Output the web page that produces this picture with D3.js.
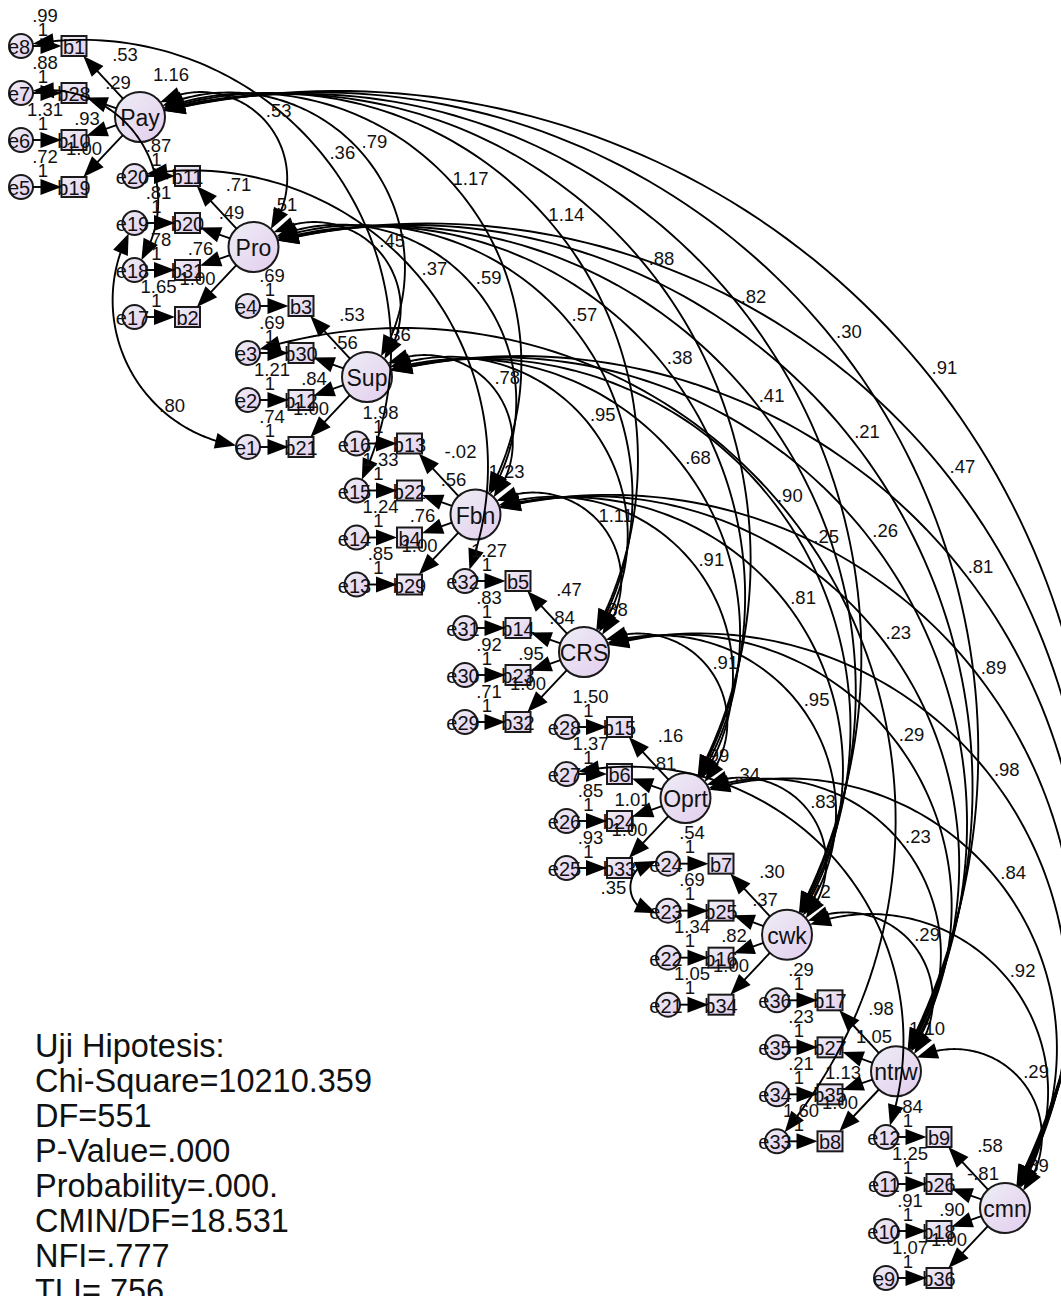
<!DOCTYPE html>
<html><head><meta charset="utf-8">
<script src="https://cdn.jsdelivr.net/npm/d3@7"></script>
<style>body{margin:0;background:#fff}svg{display:block}text{font-family:"Liberation Sans",Arial,sans-serif}</style>
</head><body>
<svg id="c" width="1061" height="1296"></svg>
<script>
// ---------- data ----------
const factors = ["Pay","Pro","Sup","Fbn","CRS","Oprt","cwk","ntrw","cmn"];
const factorVar = ["1.16",".51",".36","1.23",".88",".99",".72","1.10",".89"];
const indicators = [["b1","b28","b10","b19"],["b11","b20","b31","b2"],["b3","b30","b12","b21"],["b13","b22","b4","b29"],["b5","b14","b23","b32"],["b15","b6","b24","b33"],["b7","b25","b16","b34"],["b17","b27","b35","b8"],["b9","b26","b18","b36"]];
const errors = [["e8","e7","e6","e5"],["e20","e19","e18","e17"],["e4","e3","e2","e1"],["e16","e15","e14","e13"],["e32","e31","e30","e29"],["e28","e27","e26","e25"],["e24","e23","e22","e21"],["e36","e35","e34","e33"],["e12","e11","e10","e9"]];
const errVar = [[".99",".88","1.31",".72"],[".87",".81",".78","1.65"],[".69",".69","1.21",".74"],["1.98","1.33","1.24",".85"],["1.27",".83",".92",".71"],["1.50","1.37",".85",".93"],[".54",".69","1.34","1.05"],[".29",".23",".21","1.60"],[".84","1.25",".91","1.07"]];
const loadLab = [[".53",".29",".93"],[".71",".49",".76"],[".53",".56",".84"],["-.02",".56",".76"],[".47",".84",".95"],[".16",".81","1.01"],[".30",".37",".82"],[".98","1.05","1.13"],[".58","-.81",".90"]];
const fixedLoad = "1.00";
const errPath = "1";
const covVals = [
  [".53",".79","1.17","1.14",".88",".82",".30",".91"],
  [".45",".59",".57",".38",".41",".21",".47"],
  [".78",".95",".68",".90",".26",".81"],
  ["1.11",".91",".81",".23",".89"],
  [".91",".95",".29",".98"],
  [".83",".23",".84"],
  [".29",".92"],
  [".29"]
];
const errCovPairs = [["e8","e15"],["e7","e18"],["e19","e1"],["e20","e32"],["e3","e33"],["e24","e23"],["e27","e12"]];
const errCovVals = [".36","",".80",".37",".25",".35",".34"];
const statLines = ["Uji Hipotesis:","Chi-Square=10210.359","DF=551","P-Value=.000","Probability=.000.","CMIN/DF=18.531","NFI=.777","TLI=.756"];

// ---------- layout (geometry, not data) ----------
const errCovShape = [{k:.315},{k:.355},{k:-.28,t:.7,off:-10},{k:.3},{k:.38},{k:-.8},{k:.3,t:.3}];
const xF = d3.scaleLinear().domain([0,2,4,6,8]).range([140,367,584,787,1005]);
const yF = d3.scaleLinear().domain([0,2,4,5,8]).range([117,377,652,798,1208]);
const boxDY = [-71,-24,23,70];
const RF = 25, RE = 12, BW = 25, BH = 20;
const AL = 21, AW = 8;
const NUM = 18.5, NAME = 20, FNAME = 23;

const svg = d3.select("#c");
const defs = svg.append("defs");
const gr = defs.append("linearGradient").attr("id","lav").attr("x1",0).attr("y1",0).attr("x2",1).attr("y2",1);
gr.append("stop").attr("offset","0%").attr("stop-color","#eeeef5");
gr.append("stop").attr("offset","100%").attr("stop-color","#e3cdee");

const gShapes = svg.append("g");
const gShapeText = svg.append("g");
const gVarLab = svg.append("g");
const gLines = svg.append("g");
const gLabels = svg.append("g");

const F = factors.map((name,i)=>({name,i,x:xF(i),y:yF(i)}));
const ind = [];
const errPos = {};
F.forEach((f,i)=>indicators[i].forEach((b,k)=>{
  const bx=f.x-66, by=f.y+boxDY[k];
  const o={f,i,k,name:b,x:bx,y:by,err:errors[i][k],ex:bx-53,ey:by,ev:errVar[i][k]};
  ind.push(o); errPos[o.err]=[o.ex,o.ey];
}));

function head(layer,tip,from){
  const dx=tip[0]-from[0], dy=tip[1]-from[1], L=Math.hypot(dx,dy);
  const ux=dx/L, uy=dy/L;
  const bx=tip[0]-ux*AL, by=tip[1]-uy*AL;
  layer.append("polygon").attr("points",[[tip[0],tip[1]],[bx-uy*AW,by+ux*AW],[bx+uy*AW,by-ux*AW]].map(p=>p.join(",")).join(" "))
    .attr("fill","#000");
}
function arrowLine(layer,a,b){
  const dx=b[0]-a[0], dy=b[1]-a[1], L=Math.hypot(dx,dy);
  layer.append("line").attr("x1",a[0]).attr("y1",a[1]).attr("x2",b[0]-dx/L*(AL-2)).attr("y2",b[1]-dy/L*(AL-2))
    .attr("stroke","#000").attr("stroke-width",1.9);
  head(layer,b,a);
}
function txt(layer,x,y,s,size,anchor){
  return layer.append("text").attr("x",x).attr("y",y).attr("font-size",size).attr("text-anchor",anchor||"middle")
    .attr("dominant-baseline","central").attr("fill","#111").text(s);
}

// arcs
function arcGeom(A,B,s){
  const dx=B[0]-A[0], dy=B[1]-A[1], c=Math.hypot(dx,dy);
  const n=[dy/c,-dx/c], h=c/2;
  const R=(s*s+h*h)/(2*Math.abs(s));
  const M=[(A[0]+B[0])/2,(A[1]+B[1])/2];
  const P=[M[0]+n[0]*s,M[1]+n[1]*s];
  const off=s-Math.sign(s)*R;
  const C=[M[0]+n[0]*off,M[1]+n[1]*off];
  const a0=Math.atan2(A[1]-C[1],A[0]-C[0]);
  const aP=Math.atan2(P[1]-C[1],P[0]-C[0]);
  let d=aP-a0; while(d>Math.PI)d-=2*Math.PI; while(d<=-Math.PI)d+=2*Math.PI;
  return {C,R,a0,sweep:2*d};
}
function pt(g,t){const a=g.a0+g.sweep*t; return [g.C[0]+g.R*Math.cos(a), g.C[1]+g.R*Math.sin(a)];}
const lineGen = d3.line();
function drawArc(A,B,s,rA,rB,label,lt,loff){
  const g=arcGeom(A,B,s);
  const sw=Math.abs(g.sweep);
  const tA=2*Math.asin(Math.min(1,rA/(2*g.R)))/sw;
  const tB=1-2*Math.asin(Math.min(1,rB/(2*g.R)))/sw;
  const dt=(AL-2)/(g.R*sw);
  const pts=d3.range(0,101).map(q=>pt(g,(tA+dt)+((tB-dt)-(tA+dt))*q/100));
  gLines.append("path").attr("d",lineGen(pts)).attr("fill","none").attr("stroke","#000").attr("stroke-width",1.9);
  head(gLines,pt(g,tA),pt(g,tA+AL/(g.R*sw)));
  head(gLines,pt(g,tB),pt(g,tB-AL/(g.R*sw)));
  if(label){
    const t=lt==null?0.5:lt, o=loff==null?17:loff;
    const Q=pt(g,t); const ux=(Q[0]-g.C[0])/g.R, uy=(Q[1]-g.C[1])/g.R;
    txt(gLabels,Q[0]+ux*o,Q[1]+uy*o,label,NUM);
  }
}

// ---------- shapes ----------
gShapes.selectAll("circle.f").data(F).join("circle").attr("class","f")
  .attr("cx",d=>d.x).attr("cy",d=>d.y).attr("r",RF).attr("fill","url(#lav)").attr("stroke","#1a1a1a").attr("stroke-width",2);
gShapes.selectAll("rect.b").data(ind).join("rect").attr("class","b")
  .attr("x",d=>d.x-BW/2).attr("y",d=>d.y-BH/2).attr("width",BW).attr("height",BH)
  .attr("fill","url(#lav)").attr("stroke","#1a1a1a").attr("stroke-width",2);
gShapes.selectAll("circle.e").data(ind).join("circle").attr("class","e")
  .attr("cx",d=>d.ex).attr("cy",d=>d.ey).attr("r",RE).attr("fill","url(#lav)").attr("stroke","#1a1a1a").attr("stroke-width",2);

F.forEach(f=>txt(gShapeText,f.x,f.y+1,f.name,FNAME));
ind.forEach(d=>{txt(gShapeText,d.x,d.y+1,d.name,NAME); txt(gShapeText,d.ex-2,d.ey+1,d.err,NAME);});
F.forEach((f,i)=>txt(gVarLab,f.x+31,f.y-43,factorVar[i],NUM));

// ---------- arrows ----------
ind.forEach(d=>{
  const dx=d.x-d.f.x, dy=d.y-d.f.y, L=Math.hypot(dx,dy);
  const a=[d.f.x+dx/L*RF, d.f.y+dy/L*RF];
  const t=Math.min((BW/2)/Math.abs(dx),(BH/2)/Math.abs(dy));
  const b=[d.x-dx*t, d.y-dy*t];
  arrowLine(gLines,a,b);
  arrowLine(gLines,[d.ex+RE,d.ey],[d.x-BW/2,d.y]);
});

// covariance arcs between factors
for(let i=0;i<F.length;i++) for(let j=i+1;j<F.length;j++){
  const A=[F[i].x,F[i].y], B=[F[j].x,F[j].y];
  const c=Math.hypot(B[0]-A[0],B[1]-A[1]);
  drawArc(A,B,0.3*c+40,RF,RF,covVals[i][j-i-1]);
}
// error covariances
errCovPairs.forEach((p,q)=>{
  const A=errPos[p[0]], B=errPos[p[1]];
  const c=Math.hypot(B[0]-A[0],B[1]-A[1]);
  const sh=errCovShape[q];
  drawArc(A,B,sh.k*c,RE,RE,errCovVals[q],sh.t,sh.off);
});

// ---------- labels ----------
ind.forEach(d=>{
  txt(gLabels,d.ex+24,d.ey-31,d.ev,NUM);
  txt(gLabels,d.ex+22,d.ey-17,errPath,NUM);
  if(d.k===0) txt(gLabels,d.x+51,d.y+8,loadLab[d.i][0],NUM);
  if(d.k===1) txt(gLabels,d.x+44,d.y-11,loadLab[d.i][1],NUM);
  if(d.k===2){ txt(gLabels,d.x+13,d.y-22,loadLab[d.i][2],NUM); txt(gLabels,d.x+10,d.y+8,fixedLoad,NUM); }
});

// ---------- fit statistics ----------
statLines.forEach((s,i)=>svg.append("text").attr("x",35).attr("y",1057+35*i).attr("font-size",32.5).attr("fill","#111").text(s));
</script>
</body></html>
